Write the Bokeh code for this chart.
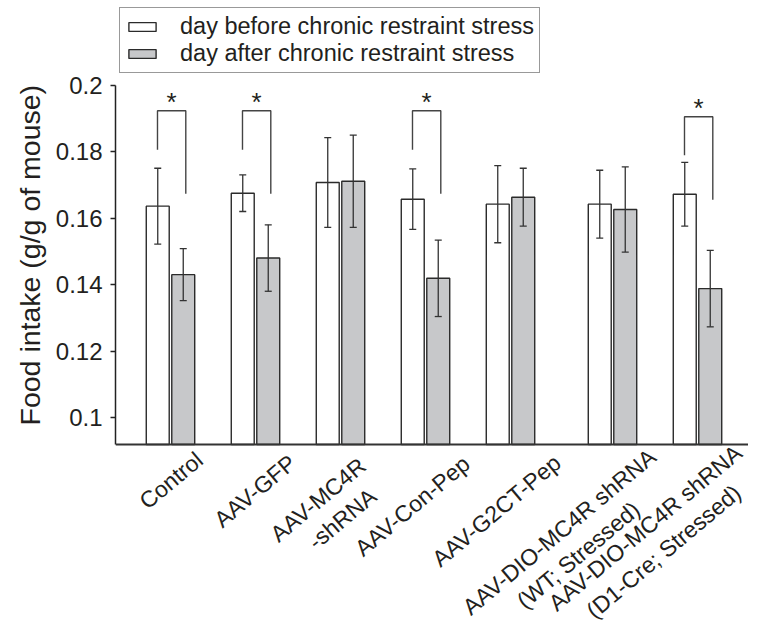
import numpy as np
from bokeh.plotting import figure
from bokeh.models import (ColumnDataSource, Range1d, FixedTicker, Whisker, TeeHead,
                          Legend, LegendItem, Label, Span, Title)
from bokeh.core.properties import value
from bokeh.embed import file_html
from bokeh.resources import INLINE

# ---------------- data ----------------
groups = [["Control"], ["AAV-GFP"], ["AAV-MC4R", "-shRNA"], ["AAV-Con-Pep"], ["AAV-G2CT-Pep"],
          ["AAV-DIO-MC4R shRNA", "(WT; Stressed)"], ["AAV-DIO-MC4R shRNA", "(D1-Cre; Stressed)"]]
before_mean = [0.1637, 0.1676, 0.1708, 0.1658, 0.1643, 0.1643, 0.1673]
before_err = [0.0114, 0.0055, 0.0135, 0.0091, 0.0116, 0.0102, 0.0096]
after_mean = [0.1431, 0.1481, 0.1712, 0.1420, 0.1664, 0.1627, 0.1389]
after_err = [0.0078, 0.0100, 0.0139, 0.0115, 0.0087, 0.0128, 0.0115]
sig_index = [0, 1, 3, 6]
sig_top = [0.1924, 0.1924, 0.1924, 0.1906]
sig_left_end = [0.1807, 0.1807, 0.1807, 0.1790]
sig_right_end = [0.1674, 0.1674, 0.1674, 0.1656]
y_ticks = [0.1, 0.12, 0.14, 0.16, 0.18, 0.2]
y_tick_labels = ["0.1", "0.12", "0.14", "0.16", "0.18", "0.2"]
y_axis_min, y_axis_max = 0.092, 0.2
series_labels = ["day before chronic restraint stress", "day after chronic restraint stress"]
y_title = "Food intake (g/g of mouse)"

# ---------------- layout ----------------
FONT = "Liberation Sans"
TXT = "#231f20"
LINE = "#2b2b2b"
GRAY = "#c7c8ca"
W, H = 748, 623
LEFT = 115
group_pos = np.array([1, 2, 3, 4, 5, 6.2, 7.2])
off = 0.15
bw = 0.27
# right-end (middle) of each rotated label line, px from (group centre, axis line)
line_dx = [[29], [37], [22, 32.5], [41], [47], [40, 24], [41, 40]]
line_dy = [[12], [15], [18, 48.4], [16], [15], [9, 61.6], [5, 45]]

x0, x1 = 0.353, 7.8
px_per_y = 365 / 0.1098          # vertical scale of the reference
top_px = 85                      # where y_axis_max sits, from the top
y1 = y_axis_max + top_px / px_per_y
y0 = y_axis_max - (H - top_px) / px_per_y

p = figure(width=W, height=H, x_range=Range1d(x0, x1), y_range=Range1d(y0, y1),
           output_backend="svg", toolbar_location=None,
           min_border_left=LEFT, min_border_right=0, min_border_top=0, min_border_bottom=0)
p.outline_line_color = None
p.grid.visible = False
p.background_fill_color = "white"
p.xaxis.visible = False

src_b = ColumnDataSource(dict(x=group_pos - off, top=before_mean,
                              upper=np.array(before_mean) + np.array(before_err),
                              lower=np.array(before_mean) - np.array(before_err)))
src_a = ColumnDataSource(dict(x=group_pos + off, top=after_mean,
                              upper=np.array(after_mean) + np.array(after_err),
                              lower=np.array(after_mean) - np.array(after_err)))

r_b = p.vbar(x="x", top="top", bottom=y_axis_min, width=bw, source=src_b,
             fill_color="white", line_color=LINE, line_width=1.4)
r_a = p.vbar(x="x", top="top", bottom=y_axis_min, width=bw, source=src_a,
             fill_color=GRAY, line_color=LINE, line_width=1.4)

for s in (src_b, src_a):
    w = Whisker(source=s, base="x", upper="upper", lower="lower", dimension="height",
                line_color="#333333", line_width=1.3, level="overlay",
                upper_head=TeeHead(size=7, line_color="#333333", line_width=1.3),
                lower_head=TeeHead(size=7, line_color="#333333", line_width=1.3))
    p.add_layout(w)

# x axis line
p.add_layout(Span(location=y_axis_min, dimension="width", line_color="#333333", line_width=2))

# significance brackets
bx = group_pos[sig_index]
xs = [[g - 0.153, g - 0.153, g + 0.18, g + 0.18] for g in bx]
ys = [[le, t, t, re] for le, t, re in zip(sig_left_end, sig_top, sig_right_end)]
p.multi_line(xs=xs, ys=ys, line_color="#444444", line_width=1.4)
star_src = ColumnDataSource(dict(x=bx + 0.0135, y=sig_top, t=["*"] * len(bx)))
p.text(x="x", y="y", text="t", source=star_src, text_font=value(FONT), text_font_size="26px",
       text_color=TXT, text_align="center", text_baseline="alphabetic", y_offset=-9)

# rotated group labels
for g, lines, dxs, dys in zip(group_pos, groups, line_dx, line_dy):
    for txt, dx, dy in zip(lines, dxs, dys):
        p.add_layout(Label(x=g, y=y_axis_min, x_offset=dx, y_offset=-dy, text=txt,
                           angle=float(np.deg2rad(40)),
                           text_font=FONT, text_font_size="23px", text_color=TXT,
                           text_align="right", text_baseline="middle"))

# y axis
p.yaxis.bounds = (y_axis_min, y_axis_max)
p.yaxis.ticker = FixedTicker(ticks=y_ticks)
p.yaxis.major_label_overrides = {t: l for t, l in zip(y_ticks, y_tick_labels)}
p.yaxis.axis_line_width = 1.5
p.yaxis.axis_line_color = "#222222"
p.yaxis.major_tick_line_color = "#222222"
p.yaxis.major_tick_line_width = 1.5
p.yaxis.major_tick_out = 5
p.yaxis.major_tick_in = 0
p.yaxis.minor_tick_line_color = None
p.yaxis.major_label_standoff = 8
p.yaxis.major_label_text_font = FONT
p.yaxis.major_label_text_font_size = "24px"
p.yaxis.major_label_text_color = TXT

# y title: starts (bottom) where the reference's does
p.add_layout(Title(text=y_title, align="left", offset=198, standoff=13,
                   text_font=FONT, text_font_size="28.5px", text_font_style="normal",
                   text_color=TXT), "left")

# legend (px from the frame's bottom-left)
legend = Legend(items=[LegendItem(label=series_labels[0], renderers=[r_b]),
                       LegendItem(label=series_labels[1], renderers=[r_a])],
                location=(4, H - 73), padding=5, margin=0, spacing=0,
                glyph_width=34, glyph_height=11, label_standoff=21,
                label_text_font=FONT, label_text_font_size="23.5px", label_text_color=TXT,
                label_text_line_height=1.1,
                border_line_color="#333333", border_line_width=1.3,
                background_fill_color="white", background_fill_alpha=1.0)
p.add_layout(legend)

open("out.html", "w").write(file_html(p, INLINE))
